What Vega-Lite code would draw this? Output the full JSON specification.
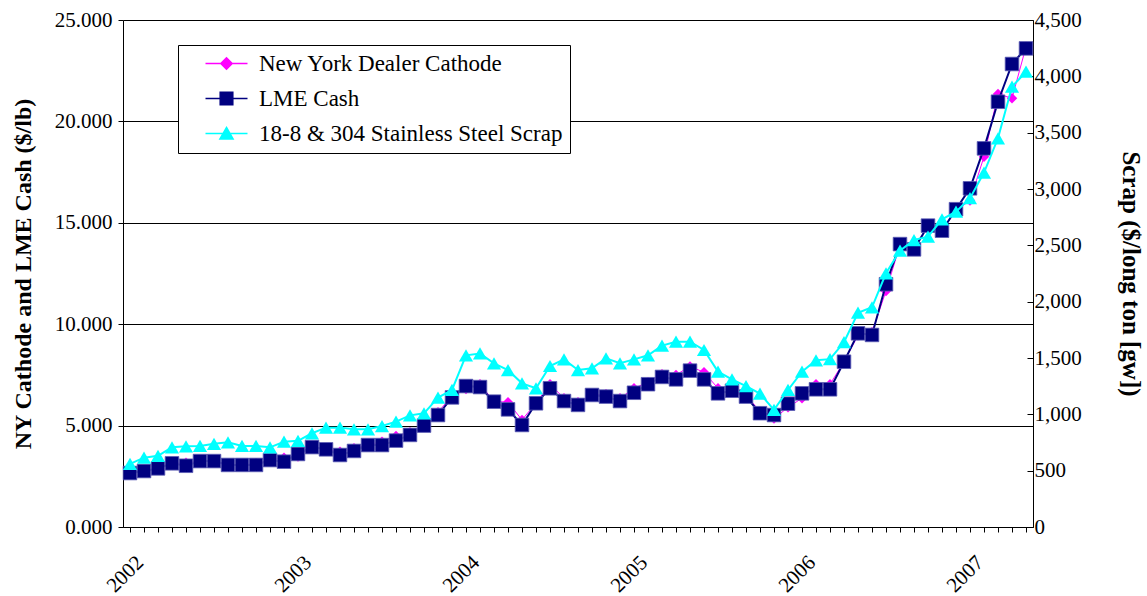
{
  "$schema": "https://vega.github.io/schema/vega-lite/v6.json",
  "autosize": {"type": "none"},
  "width": 910,
  "height": 507,
  "padding": {"left": 123, "top": 20, "right": 114, "bottom": 69},
  "background": "white",
  "data": {"values": [
    {"month":"2002-01","ny":2.65,"lme":2.66,"scrap":560},
    {"month":"2002-02","ny":2.76,"lme":2.76,"scrap":615},
    {"month":"2002-03","ny":2.90,"lme":2.89,"scrap":632},
    {"month":"2002-04","ny":3.14,"lme":3.14,"scrap":707},
    {"month":"2002-05","ny":3.17,"lme":3.02,"scrap":716},
    {"month":"2002-06","ny":3.25,"lme":3.25,"scrap":719},
    {"month":"2002-07","ny":3.26,"lme":3.25,"scrap":738},
    {"month":"2002-08","ny":3.06,"lme":3.06,"scrap":752},
    {"month":"2002-09","ny":3.06,"lme":3.06,"scrap":719},
    {"month":"2002-10","ny":3.14,"lme":3.06,"scrap":719},
    {"month":"2002-11","ny":3.30,"lme":3.30,"scrap":707},
    {"month":"2002-12","ny":3.42,"lme":3.22,"scrap":757},
    {"month":"2003-01","ny":3.47,"lme":3.60,"scrap":765},
    {"month":"2003-02","ny":3.95,"lme":3.94,"scrap":832},
    {"month":"2003-03","ny":3.84,"lme":3.83,"scrap":882},
    {"month":"2003-04","ny":3.71,"lme":3.55,"scrap":882},
    {"month":"2003-05","ny":3.88,"lme":3.75,"scrap":867},
    {"month":"2003-06","ny":4.05,"lme":4.04,"scrap":867},
    {"month":"2003-07","ny":4.21,"lme":4.04,"scrap":896},
    {"month":"2003-08","ny":4.49,"lme":4.26,"scrap":935},
    {"month":"2003-09","ny":4.67,"lme":4.54,"scrap":991},
    {"month":"2003-10","ny":5.02,"lme":5.00,"scrap":1009},
    {"month":"2003-11","ny":5.66,"lme":5.52,"scrap":1148},
    {"month":"2003-12","ny":6.47,"lme":6.39,"scrap":1216},
    {"month":"2004-01","ny":6.80,"lme":6.95,"scrap":1524},
    {"month":"2004-02","ny":7.04,"lme":6.90,"scrap":1540},
    {"month":"2004-03","ny":6.20,"lme":6.18,"scrap":1453},
    {"month":"2004-04","ny":6.15,"lme":5.80,"scrap":1393},
    {"month":"2004-05","ny":5.28,"lme":5.03,"scrap":1275},
    {"month":"2004-06","ny":6.12,"lme":6.10,"scrap":1231},
    {"month":"2004-07","ny":7.04,"lme":6.84,"scrap":1429},
    {"month":"2004-08","ny":6.35,"lme":6.21,"scrap":1488},
    {"month":"2004-09","ny":6.15,"lme":6.02,"scrap":1393},
    {"month":"2004-10","ny":6.52,"lme":6.51,"scrap":1408},
    {"month":"2004-11","ny":6.54,"lme":6.43,"scrap":1497},
    {"month":"2004-12","ny":6.35,"lme":6.21,"scrap":1453},
    {"month":"2005-01","ny":6.84,"lme":6.62,"scrap":1488},
    {"month":"2005-02","ny":7.14,"lme":7.04,"scrap":1524},
    {"month":"2005-03","ny":7.53,"lme":7.40,"scrap":1610},
    {"month":"2005-04","ny":7.50,"lme":7.28,"scrap":1645},
    {"month":"2005-05","ny":7.92,"lme":7.71,"scrap":1645},
    {"month":"2005-06","ny":7.63,"lme":7.28,"scrap":1571},
    {"month":"2005-07","ny":6.84,"lme":6.59,"scrap":1379},
    {"month":"2005-08","ny":6.75,"lme":6.72,"scrap":1311},
    {"month":"2005-09","ny":6.50,"lme":6.43,"scrap":1251},
    {"month":"2005-10","ny":5.70,"lme":5.61,"scrap":1184},
    {"month":"2005-11","ny":5.35,"lme":5.52,"scrap":1040},
    {"month":"2005-12","ny":5.90,"lme":6.08,"scrap":1216},
    {"month":"2006-01","ny":6.35,"lme":6.59,"scrap":1379},
    {"month":"2006-02","ny":7.04,"lme":6.79,"scrap":1480},
    {"month":"2006-03","ny":7.04,"lme":6.79,"scrap":1490},
    {"month":"2006-04","ny":8.15,"lme":8.15,"scrap":1640},
    {"month":"2006-05","ny":9.45,"lme":9.55,"scrap":1902},
    {"month":"2006-06","ny":9.60,"lme":9.47,"scrap":1950},
    {"month":"2006-07","ny":11.64,"lme":11.97,"scrap":2252},
    {"month":"2006-08","ny":13.90,"lme":13.95,"scrap":2453},
    {"month":"2006-09","ny":13.75,"lme":13.69,"scrap":2547},
    {"month":"2006-10","ny":14.85,"lme":14.86,"scrap":2577},
    {"month":"2006-11","ny":14.60,"lme":14.61,"scrap":2731},
    {"month":"2006-12","ny":15.60,"lme":15.67,"scrap":2799},
    {"month":"2007-01","ny":16.10,"lme":16.70,"scrap":2918},
    {"month":"2007-02","ny":18.26,"lme":18.67,"scrap":3145},
    {"month":"2007-03","ny":21.35,"lme":20.97,"scrap":3450},
    {"month":"2007-04","ny":21.14,"lme":22.83,"scrap":3908},
    {"month":"2007-05","ny":23.68,"lme":23.60,"scrap":4041}
  ]},
  "encoding": {
    "x": {
      "field": "month", "type": "ordinal",
      "scale": {"paddingInner": 0, "paddingOuter": 0},
      "axis": {
        "title": null, "bandPosition": 0, "grid": false,
        "labelExpr": "substring(datum.value,5,7)=='01' ? substring(datum.value,0,4) : ''",
        "labelAngle": -45, "labelAlign": "center", "labelBaseline": "middle",
        "labelPadding": 42, "labelOffset": -5, "labelOverlap": false, "labelFlush": false,
        "labelFont": "Liberation Serif", "labelFontSize": 21, "labelColor": "black",
        "tickColor": "black", "tickSize": 5, "domainColor": "black"
      }
    }
  },
  "layer": [
    {
      "encoding": {
        "y": {
          "type": "quantitative",
          "scale": {"domain": [0, 25]},
          "title": "NY Cathode and LME Cash ($/lb)",
          "axis": {
            "values": [0, 5, 10, 15, 20, 25], "format": ".3f",
            "grid": true, "gridColor": "black", "gridWidth": 1,
            "tickColor": "black", "domainColor": "black", "tickSize": 5,
            "labelFont": "Liberation Serif", "labelFontSize": 21, "labelColor": "black", "labelPadding": 6,
            "titleFont": "Liberation Serif", "titleFontSize": 24, "titleFontWeight": "bold", "titleColor": "black",
            "titlePadding": 19
          }
        }
      },
      "layer": [
        {
          "mark": {"type": "line", "strokeWidth": 1},
          "encoding": {
            "y": {"field": "ny"},
            "color": {"datum": "New York Dealer Cathode",
              "legend": {
                "encode": {
                  "symbols": {
                    "update": {
                      "shape": {"signal": "datum.value === 'New York Dealer Cathode' ? 'M-3.5,0H3.5M-0.95,0L0,-0.95L0.95,0L0,0.95Z' : (datum.value === 'LME Cash' ? 'M-3.5,0H3.5M-1.05,-1.05H1.05V1.05H-1.05Z' : 'M-3.5,0H3.5M0,-1L1.1,0.9H-1.1Z')"},
                      "fill": {"scale": "color", "field": "value"},
                      "stroke": {"scale": "color", "field": "value"},
                      "strokeWidth": {"value": 1.5},
                      "opacity": {"value": 1},
                      "fillOpacity": {"value": 1},
                      "strokeOpacity": {"value": 1}
                    }
                  }
                }
              }}
          }
        },
        {
          "mark": {"type": "point", "shape": "diamond", "filled": true, "size": 110, "opacity": 1},
          "encoding": {
            "y": {"field": "ny"},
            "color": {"datum": "New York Dealer Cathode"}
          }
        },
        {
          "mark": {"type": "line", "strokeWidth": 2},
          "encoding": {
            "y": {"field": "lme"},
            "color": {"datum": "LME Cash"}
          }
        },
        {
          "mark": {"type": "point", "shape": "square", "filled": true, "size": 185, "opacity": 1, "stroke": "#5a5ab4", "strokeWidth": 0.8},
          "encoding": {
            "y": {"field": "lme"},
            "color": {"datum": "LME Cash"}
          }
        }
      ]
    },
    {
      "encoding": {
        "y": {
          "type": "quantitative",
          "scale": {"domain": [0, 4500]},
          "title": "Scrap ($/long ton [gw])",
          "axis": {
            "orient": "right",
            "values": [0, 500, 1000, 1500, 2000, 2500, 3000, 3500, 4000, 4500], "format": ",d",
            "grid": false,
            "tickColor": "black", "domainColor": "black", "tickSize": -6,
            "labelFont": "Liberation Serif", "labelFontSize": 21, "labelColor": "black", "labelPadding": 7,
            "titleFont": "Liberation Serif", "titleFontSize": 25, "titleFontWeight": "bold", "titleColor": "black",
            "titlePadding": 36
          }
        }
      },
      "layer": [
        {
          "mark": {"type": "line", "strokeWidth": 2},
          "encoding": {
            "y": {"field": "scrap"},
            "color": {"datum": "18-8 & 304 Stainless Steel Scrap"}
          }
        },
        {
          "mark": {"type": "point", "shape": "triangle-up", "filled": true, "size": 200, "opacity": 1},
          "encoding": {
            "y": {"field": "scrap"},
            "color": {"datum": "18-8 & 304 Stainless Steel Scrap"}
          }
        }
      ]
    }
  ],
  "resolve": {"scale": {"y": "independent"}},
  "config": {
    "view": {"stroke": null},
    "range": {"category": ["#FF00FF", "#000080", "#00FFFF"]},
    "legend": {
      "title": null, "orient": "none", "legendX": 55, "legendY": 25,
      "fillColor": "white", "strokeColor": "black", "padding": 7,
      "symbolOffset": 30, "labelOffset": 21, "rowPadding": 11,
      "symbolSize": 144, "labelFont": "Liberation Serif", "labelFontSize": 23, "labelColor": "black",
      "labelLimit": 400
    }
  }
}
